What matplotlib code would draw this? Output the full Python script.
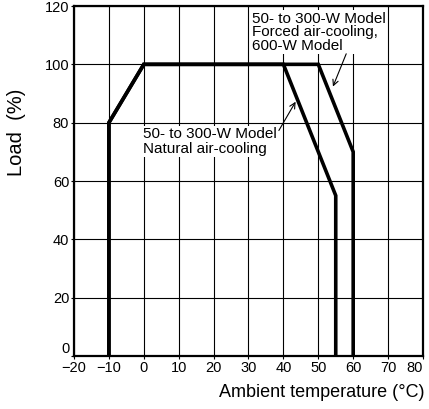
import matplotlib
matplotlib.use("Agg")
import matplotlib.pyplot as plt

plt.rcParams['font.family'] = ['Liberation Sans', 'DejaVu Sans']

# 곡선 데이터
natural_x = [-10, -10, 0, 40, 55, 55]
natural_y = [0, 80, 100, 100, 55, 0]
forced_x = [-10, -10, 0, 50, 60, 60]
forced_y = [0, 80, 100, 100, 70, 0]

xticks = [-20, -10, 0, 10, 20, 30, 40, 50, 60, 70, 80]
yticks = [0, 20, 40, 60, 80, 100, 120]
xticklabels = ['\u221220', '\u221210', '0', '10', '20', '30', '40', '50', '60', '70', '80']

fig = plt.figure(figsize=(4.29, 4.09), dpi=100)
ax = fig.add_axes([0.1725, 0.1296, 0.8135, 0.8557])

ax.set_xlim(-20, 80)
ax.set_ylim(0, 120)
ax.set_xticks(xticks)
ax.set_xticklabels(xticklabels)
ax.get_xticklabels()[-1].set_ha('right')
ax.set_yticks(yticks)
ax.get_yticklabels()[0].set_va('bottom')
ax.grid(True, color='black', linewidth=0.8)
ax.set_axisbelow(True)
ax.tick_params(labelsize=10.5, length=2, width=0.8, pad=1.5, colors='black')
for s in ax.spines.values():
    s.set_linewidth(1.6)

ax.plot(natural_x, natural_y, color='black', linewidth=2.6, solid_joinstyle='miter')
ax.plot(forced_x, forced_y, color='black', linewidth=2.6, solid_joinstyle='miter')

ax.text(31, 118, '50- to 300-W Model\nForced air-cooling,\n600-W Model',
        fontsize=11, va='top', ha='left', linespacing=0.95,
        bbox=dict(facecolor='white', edgecolor='none', pad=1))
ax.annotate('', xy=(53.9, 91.5), xytext=(58.3, 104.5),
            arrowprops=dict(arrowstyle='->', color='black', lw=0.8))

ax.text(-0.3, 78.5, '50- to 300-W Model\nNatural air-cooling',
        fontsize=11, va='top', ha='left', linespacing=1.05,
        bbox=dict(facecolor='white', edgecolor='none', pad=1))
ax.annotate('', xy=(43.9, 88), xytext=(38.3, 76.5),
            arrowprops=dict(arrowstyle='->', color='black', lw=0.8))

ax.set_ylabel('Load  (%)', fontsize=14.5)
ax.yaxis.set_label_coords(-0.165, 0.64)
ax.yaxis.label.set_va('center')
fig.text(0.99, 0.04, 'Ambient temperature (\u00b0C)', fontsize=13, ha='right', va='center')

fig.savefig('out.png', dpi=100)
